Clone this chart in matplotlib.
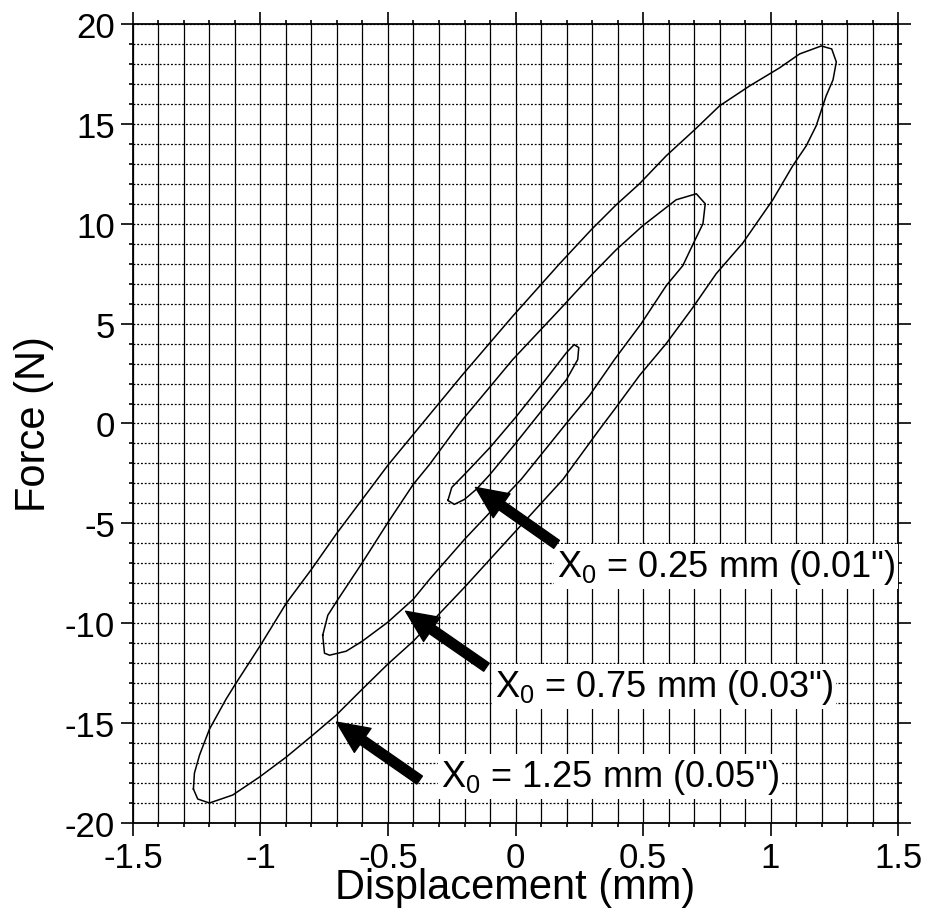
import matplotlib.pyplot as plt
from matplotlib.ticker import MultipleLocator

plt.rcParams['font.family'] = ['Liberation Sans', 'DejaVu Sans']
plt.rcParams['axes.unicode_minus'] = False

# loop for X0 = 1.25 mm (closed path)
big_x = [-1.263, -1.259, -1.239, -1.2, -1.135, -1.101, -1.0, -0.899, -0.8, -0.701,
         -0.601, -0.501, -0.401, -0.207, -0.011, 0.173, 0.297, 0.395, 0.486, 0.591,
         0.702, 0.8, 0.918, 1.035, 1.114, 1.199, 1.24, 1.258,
         1.245, 1.218, 1.179, 1.14, 1.087, 1.009, 0.891, 0.787, 0.695, 0.591, 0.486,
         0.388, 0.329, 0.186, 0.0, -0.2, -0.401, -0.501, -0.601, -0.703, -0.795,
         -0.899, -1.004, -1.109, -1.2, -1.246, -1.263]
big_y = [-18.3, -17.5, -16.6, -15.3, -13.8, -13.1, -11.1, -9.0, -7.3, -5.5,
         -3.8, -2.1, -0.55, 2.45, 5.37, 8.0, 9.7, 10.95, 12.0, 13.4,
         14.7, 15.9, 16.9, 17.8, 18.5, 18.9, 18.75, 18.1,
         17.2, 16.4, 14.9, 13.9, 12.9, 11.2, 9.03, 7.5, 5.8, 4.0, 2.4,
         0.7, -0.3, -2.8, -5.4, -8.2, -10.9, -12.05, -13.3, -14.6, -15.6,
         -16.7, -17.7, -18.6, -19.0, -18.8, -18.3]

# loop for X0 = 0.75 mm
mid_x = [-0.756, -0.736, -0.701, -0.601, -0.501, -0.401, -0.337, -0.207, -0.011, 0.173,
         0.303, 0.395, 0.499, 0.63, 0.709, 0.744,
         0.735, 0.695, 0.656, 0.591, 0.493, 0.388, 0.29, 0.199, 0.022, -0.2,
         -0.337, -0.401, -0.501, -0.601, -0.664, -0.729, -0.749, -0.756]
mid_y = [-10.6, -9.6, -8.9, -6.97, -4.97, -3.05, -2.05, 0.2, 3.2, 5.7,
         7.5, 8.7, 9.9, 11.2, 11.5, 11.0,
         10.0, 8.95, 7.9, 6.9, 5.0, 3.2, 1.4, 0.0, -2.8, -5.8,
         -7.8, -8.8, -9.95, -10.9, -11.4, -11.6, -11.5, -10.6]

# loop for X0 = 0.25 mm
small_x = [-0.265, -0.25, -0.2, -0.1, 0.0, 0.1, 0.2, 0.23, 0.248,
           0.244, 0.2, 0.1, 0.0, -0.1, -0.154, -0.2, -0.24, -0.265]
small_y = [-3.85, -3.2, -2.55, -1.2, 0.3, 1.9, 3.55, 3.95, 3.8,
           3.2, 2.2, 0.6, -1.0, -2.55, -3.3, -3.8, -4.05, -3.85]

labels = ['X$_\\mathregular{0}$ = 0.25 mm (0.01")',
          'X$_\\mathregular{0}$ = 0.75 mm (0.03")',
          'X$_\\mathregular{0}$ = 1.25 mm (0.05")']
label_pos = [(0.161, -7.65), (-0.082, -13.65), (-0.291, -18.15)]
arrow_tail = [(0.161, -6.05), (-0.114, -12.2), (-0.376, -17.85)]
arrow_tip = [(-0.157, -3.2), (-0.431, -9.4), (-0.702, -14.95)]

fig = plt.figure(figsize=(9.26, 9.12), dpi=100)
ax = fig.add_axes([0.1436, 0.0965, 0.8262, 0.8761])

ax.plot(big_x, big_y, color='black', linewidth=1.1, zorder=3)
ax.plot(mid_x, mid_y, color='black', linewidth=1.1, zorder=3)
ax.plot(small_x, small_y, color='black', linewidth=1.1, zorder=3)

for i in range(3):
    ax.annotate('', xy=arrow_tip[i], xytext=arrow_tail[i],
                arrowprops=dict(facecolor='black', edgecolor='black', width=7,
                                headwidth=21, headlength=23, shrink=0),
                zorder=5)
    ax.text(label_pos[i][0], label_pos[i][1], labels[i], fontsize=26,
            ha='left', va='baseline', zorder=4,
            bbox=dict(facecolor='white', edgecolor='none', pad=2))

ax.set_xlim(-1.5, 1.5)
ax.set_ylim(-20, 20)
ax.xaxis.set_major_locator(MultipleLocator(0.5))
ax.xaxis.set_minor_locator(MultipleLocator(0.1))
ax.yaxis.set_major_locator(MultipleLocator(5))
ax.yaxis.set_minor_locator(MultipleLocator(1))
ax.set_xticks([-1.5, -1, -0.5, 0, 0.5, 1, 1.5])
ax.set_xticklabels(['-1.5', '-1', '-0.5', '0', '0.5', '1', '1.5'])

ax.xaxis.grid(True, which='both', linestyle='-', color='black', linewidth=0.9)
ax.yaxis.grid(True, which='both', linestyle=(0, (1.5, 1.5)), color='black', linewidth=0.9)
ax.set_axisbelow(True)

ax.tick_params(which='both', direction='out', top=True, right=True, width=1.2)
ax.tick_params(which='major', length=9, labelsize=25, pad=4)
ax.tick_params(which='minor', length=3)
for s in ax.spines.values():
    s.set_linewidth(1.3)

ax.set_xlabel('Displacement (mm)', fontsize=30, va='baseline')
ax.xaxis.set_label_coords(0.5, -0.0935)
ax.set_ylabel('Force (N)', fontsize=30, labelpad=8)

plt.savefig('out.png', dpi=100)
